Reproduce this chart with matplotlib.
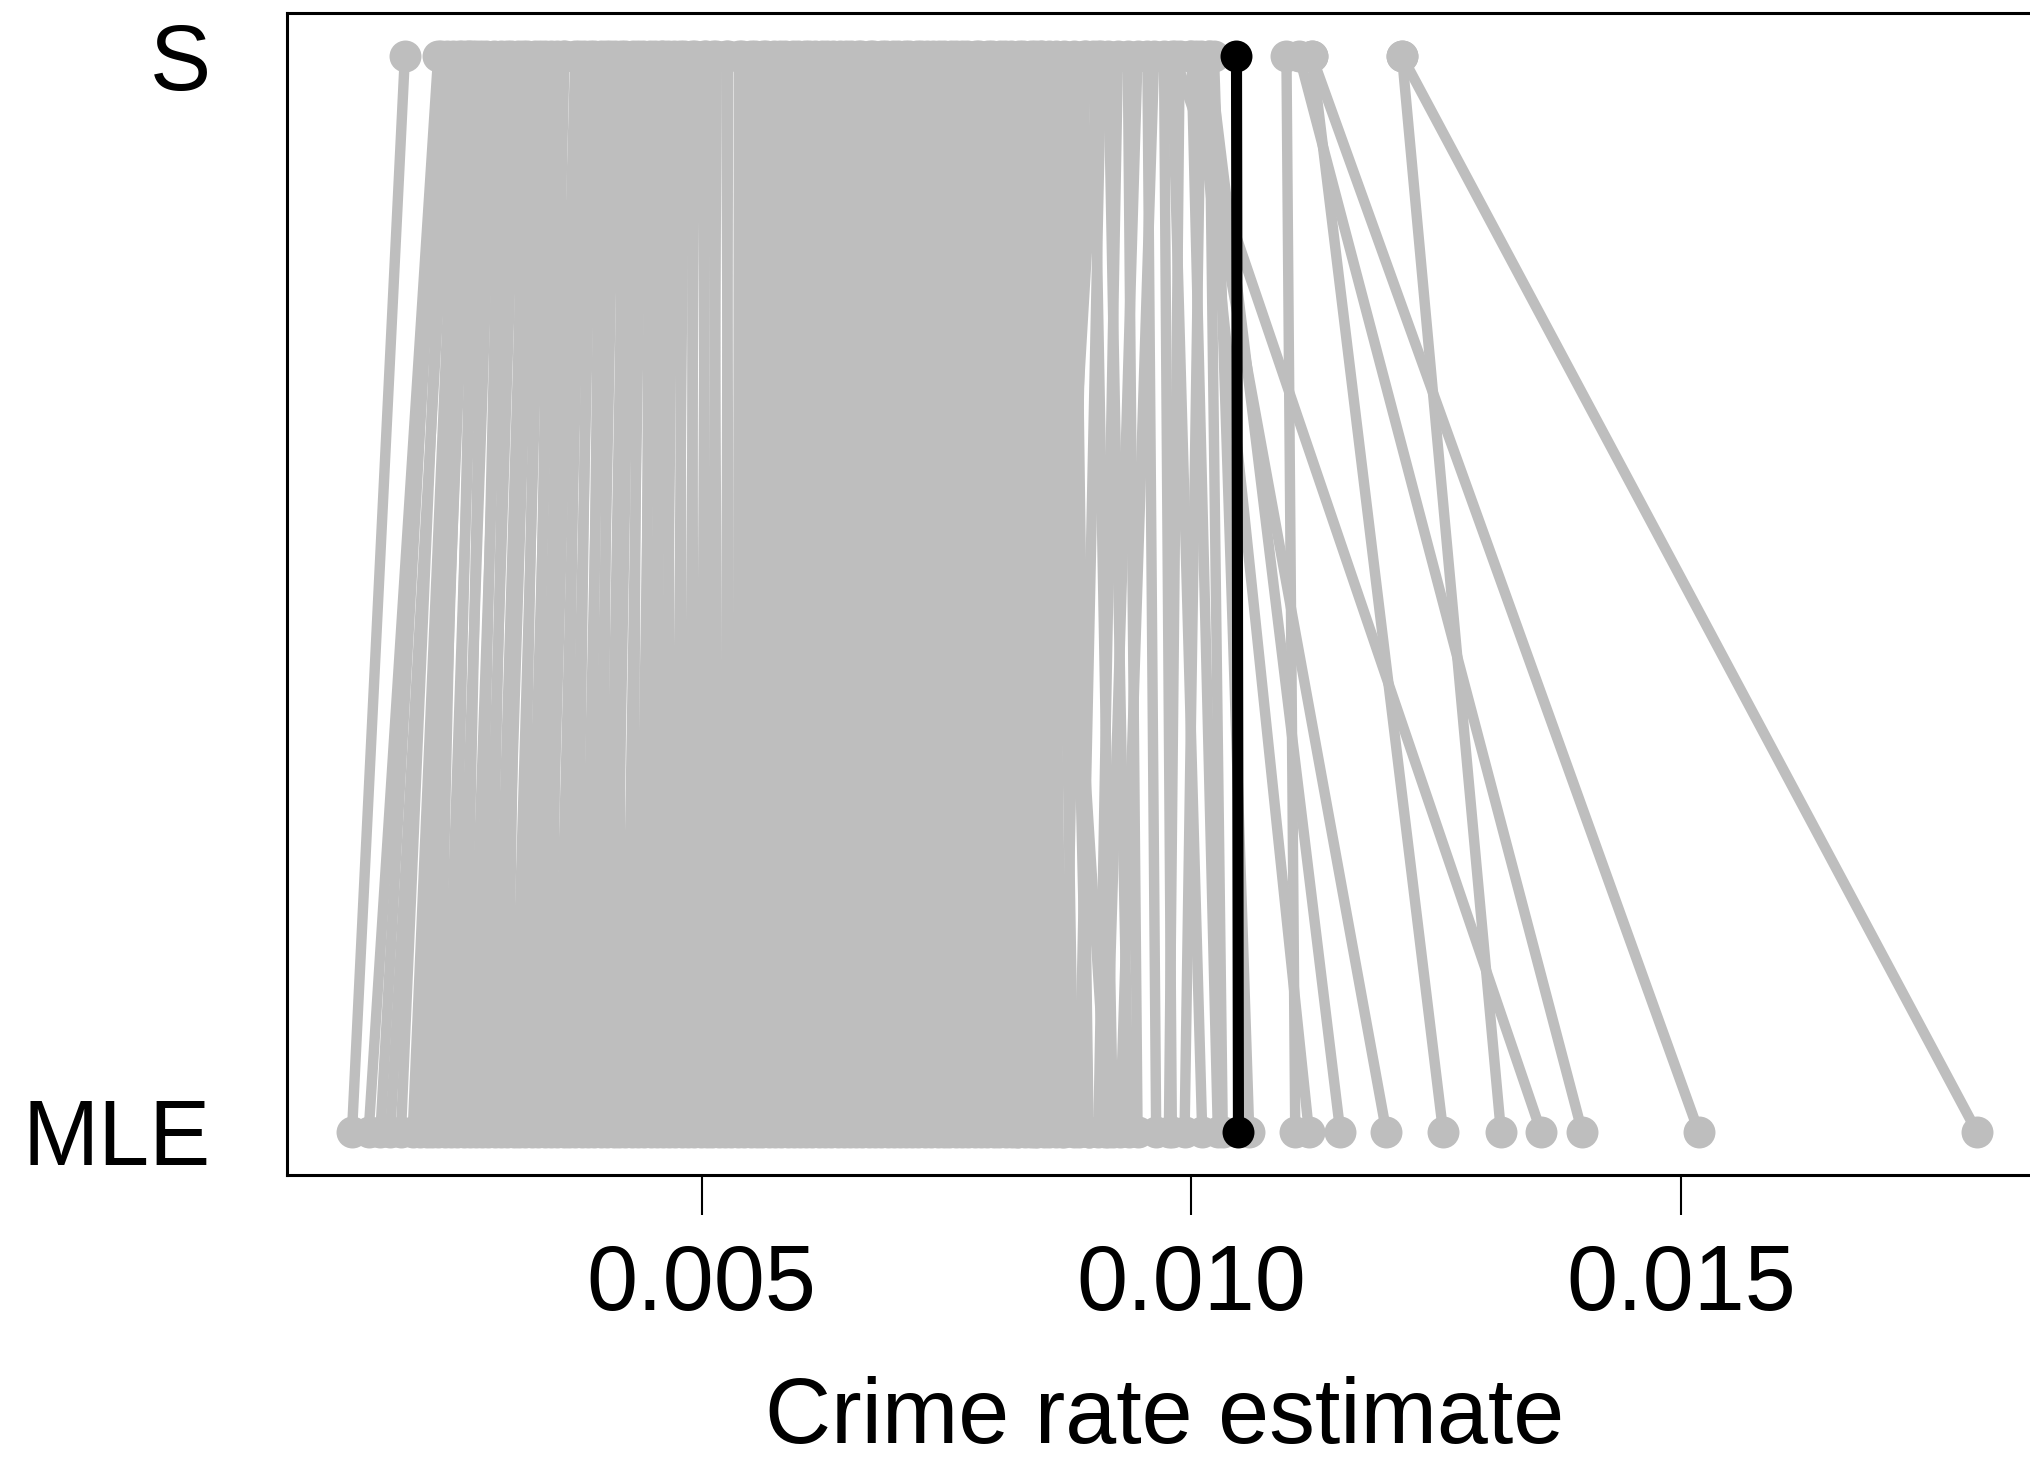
import matplotlib
matplotlib.use("Agg")
import matplotlib.pyplot as plt

plt.rcParams['font.family'] = ['Liberation Sans', 'DejaVu Sans']

# per-unit estimates: maximum likelihood (bottom row) and shrunk (top row)
mle_est = [
    0.00143, 0.00160, 0.00172, 0.00182, 0.00193, 0.00205, 0.00212, 0.00220,
    0.00225, 0.00231, 0.00238, 0.00244, 0.00250, 0.00257, 0.00263, 0.00270,
    0.00276, 0.00282, 0.00289, 0.00295, 0.00301, 0.00308, 0.00314, 0.00320,
    0.00327, 0.00333, 0.00340, 0.00346, 0.00352, 0.00359, 0.00365, 0.00371,
    0.00378, 0.00384, 0.00390, 0.00397, 0.00403, 0.00410, 0.00416, 0.00422,
    0.00429, 0.00435, 0.00441, 0.00448, 0.00454, 0.00460, 0.00467, 0.00473,
    0.00480, 0.00486, 0.00492, 0.00499, 0.00505, 0.00511, 0.00518, 0.00524,
    0.00530, 0.00537, 0.00543, 0.00550, 0.00556, 0.00562, 0.00569, 0.00575,
    0.00581, 0.00588, 0.00594, 0.00600, 0.00607, 0.00613, 0.00620, 0.00626,
    0.00632, 0.00639, 0.00645, 0.00651, 0.00658, 0.00664, 0.00671, 0.00677,
    0.00683, 0.00690, 0.00696, 0.00702, 0.00709, 0.00715, 0.00721, 0.00728,
    0.00734, 0.00741, 0.00747, 0.00753, 0.00760, 0.00766, 0.00772, 0.00779,
    0.00785, 0.00791, 0.00798, 0.00804, 0.00811, 0.00817, 0.00823, 0.00830,
    0.00836, 0.00842, 0.00849, 0.00855, 0.00862, 0.00868,
    0.00880, 0.00840, 0.00895, 0.00915, 0.00822,
    0.00870, 0.00885, 0.00895, 0.00905, 0.00912, 0.00920, 0.00927, 0.00936,
    0.00945, 0.00964, 0.00977, 0.00980, 0.00993, 0.01011, 0.01027, 0.01032,
    0.01059,
    0.01802, 0.01316, 0.01518, 0.01399, 0.01357, 0.01257, 0.01106, 0.01199,
    0.01152, 0.01120,
]

s_est = [
    0.00197, 0.00231, 0.00234, 0.00246, 0.00240, 0.00252, 0.00260, 0.00266,
    0.00262, 0.00255, 0.00275, 0.00270, 0.00288, 0.00280, 0.00301, 0.00295,
    0.00312, 0.00305, 0.00322, 0.00330, 0.00318, 0.00340, 0.00335, 0.00352,
    0.00346, 0.00360, 0.00371, 0.00358, 0.00380, 0.00375, 0.00390, 0.00386,
    0.00402, 0.00397, 0.00412, 0.00406, 0.00422, 0.00430, 0.00418, 0.00440,
    0.00435, 0.00452, 0.00447, 0.00460, 0.00458, 0.00472, 0.00466, 0.00482,
    0.00478, 0.00493, 0.00490, 0.00504, 0.00502, 0.00515, 0.00512, 0.00527,
    0.00525, 0.00538, 0.00541, 0.00550, 0.00554, 0.00563, 0.00566, 0.00574,
    0.00580, 0.00585, 0.00593, 0.00598, 0.00605, 0.00610, 0.00616, 0.00623,
    0.00628, 0.00634, 0.00641, 0.00647, 0.00652, 0.00660, 0.00663, 0.00672,
    0.00675, 0.00684, 0.00688, 0.00695, 0.00700, 0.00708, 0.00712, 0.00720,
    0.00724, 0.00730, 0.00736, 0.00742, 0.00747, 0.00755, 0.00760, 0.00766,
    0.00771, 0.00780, 0.00783, 0.00792, 0.00796, 0.00805, 0.00810, 0.00816,
    0.00824, 0.00828, 0.00836, 0.00840, 0.00847, 0.00855,
    0.00862, 0.00905, 0.00870, 0.00845, 0.00890,
    0.00892, 0.00908, 0.00880, 0.00925, 0.00945, 0.00900, 0.00962, 0.00915,
    0.00935, 0.00955, 0.00988, 0.00972, 0.01010, 0.00980, 0.01000, 0.01018,
    0.01023,
    0.01215, 0.01215, 0.01123, 0.01110, 0.00983, 0.01123, 0.01097, 0.00999,
    0.01018, 0.01005,
]

# pooled estimate drawn in black
overall_mle = 0.01048
overall_s = 0.01046

row_labels = ["MLE", "S"]
x_ticks = [0.005, 0.010, 0.015]
x_tick_labels = ["0.005", "0.010", "0.015"]

W, H = 2030, 1467
fig = plt.figure(figsize=(W / 100, H / 100), dpi=100)
ax = fig.add_axes([287 / W, (H - 1175) / H, 1755 / W, (1175 - 13) / H])

gray = "#BEBEBE"
for m, s in zip(mle_est, s_est):
    ax.plot([m, s], [0, 1], color=gray, linewidth=7.5, marker="o",
            markersize=23, markeredgewidth=0, solid_capstyle="butt")

ax.plot([overall_mle, overall_s], [0, 1], color="black", linewidth=8,
        marker="o", markersize=23, markeredgewidth=0, zorder=5)

# R-style 4% padding around the data range
lo = min(min(mle_est), min(s_est))
hi = max(max(mle_est), max(s_est))
pad = 0.04 * (hi - lo)
ax.set_xlim(lo - pad, hi + pad)
ax.set_ylim(-0.04, 1.04)

ax.set_yticks([0, 1])
ax.set_yticklabels(row_labels)
ax.set_xticks(x_ticks)
ax.set_xticklabels(x_tick_labels)
ax.tick_params(axis="y", length=0, pad=55, labelsize=66)
ax.tick_params(axis="x", length=29, width=1.5, pad=20, labelsize=66)
ax.set_xlabel("Crime rate estimate", fontsize=66, labelpad=34)

for sp in ax.spines.values():
    sp.set_linewidth(2.2)

fig.savefig("out.png", dpi=100)
